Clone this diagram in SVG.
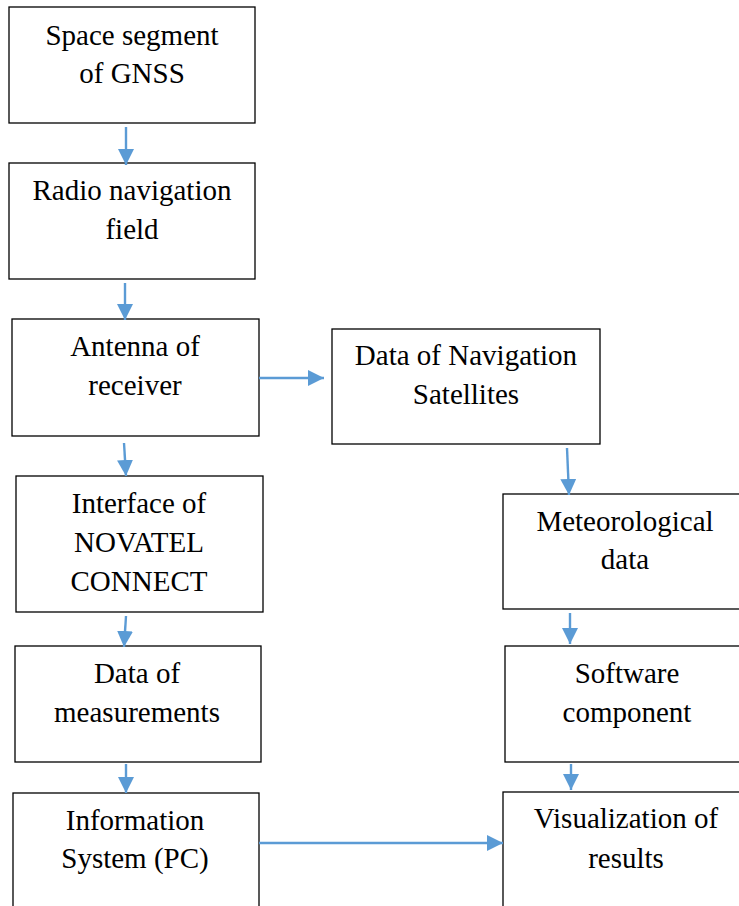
<svg xmlns="http://www.w3.org/2000/svg" width="739" height="906" viewBox="0 0 739 906">
<style>
.box{fill:#fff;stroke:#000;stroke-width:1.3}
.t{font-family:"Liberation Serif","Times New Roman",serif;font-size:29px;fill:#000;text-anchor:middle}
.c{stroke:#5B9BD5;stroke-width:2.4;fill:none;marker-end:url(#ah)}
</style>
<defs>
<marker id="ah" markerUnits="userSpaceOnUse" markerWidth="16" markerHeight="16" viewBox="0 0 14 14" refX="14" refY="7" orient="auto">
<path d="M0,0 L14,7 L0,14 Z" fill="#5B9BD5"/>
</marker>
</defs>
<rect width="739" height="906" fill="#fff"/>
<g id="n1"><rect class="box" x="9" y="7" width="246" height="116"/><text class="t" x="132" y="45">Space segment</text><text class="t" x="132" y="83">of GNSS</text></g>
<g id="n2"><rect class="box" x="9" y="163" width="246" height="116"/><text class="t" x="132" y="200">Radio navigation</text><text class="t" x="132" y="239">field</text></g>
<g id="n3"><rect class="box" x="12" y="319" width="247" height="117"/><text class="t" x="135" y="356">Antenna of</text><text class="t" x="135" y="395">receiver</text></g>
<g id="n4"><rect class="box" x="332" y="329" width="268" height="115"/><text class="t" x="466" y="365">Data of Navigation</text><text class="t" x="466" y="404">Satellites</text></g>
<g id="n5"><rect class="box" x="16" y="476" width="247" height="136"/><text class="t" x="139" y="513">Interface of</text><text class="t" x="139" y="552">NOVATEL</text><text class="t" x="139" y="591">CONNECT</text></g>
<g id="n6"><rect class="box" x="503" y="494" width="250" height="115"/><text class="t" x="625" y="531">Meteorological</text><text class="t" x="625" y="569">data</text></g>
<g id="n7"><rect class="box" x="15" y="646" width="246" height="116"/><text class="t" x="137" y="683">Data of</text><text class="t" x="137" y="722">measurements</text></g>
<g id="n8"><rect class="box" x="505" y="646" width="250" height="116"/><text class="t" x="627" y="683">Software</text><text class="t" x="627" y="722">component</text></g>
<g id="n9"><rect class="box" x="13" y="793" width="246" height="130"/><text class="t" x="135" y="830">Information</text><text class="t" x="135" y="868">System (PC)</text></g>
<g id="n10"><rect class="box" x="503" y="792" width="250" height="130"/><text class="t" x="626" y="828">Visualization of</text><text class="t" x="626" y="868">results</text></g>
<g id="connectors">
<line class="c" x1="126" y1="127" x2="126" y2="165"/>
<line class="c" x1="125" y1="283" x2="125" y2="320"/>
<line class="c" x1="259" y1="378" x2="324" y2="378"/>
<line class="c" x1="567" y1="448" x2="569" y2="495"/>
<line class="c" x1="124" y1="443" x2="126" y2="476"/>
<line class="c" x1="126" y1="616" x2="124" y2="647"/>
<line class="c" x1="570" y1="613" x2="570" y2="644"/>
<line class="c" x1="126" y1="764" x2="126" y2="793"/>
<line class="c" x1="571" y1="764" x2="571" y2="790"/>
<line class="c" x1="259" y1="843" x2="503" y2="843"/>
</g>
</svg>
